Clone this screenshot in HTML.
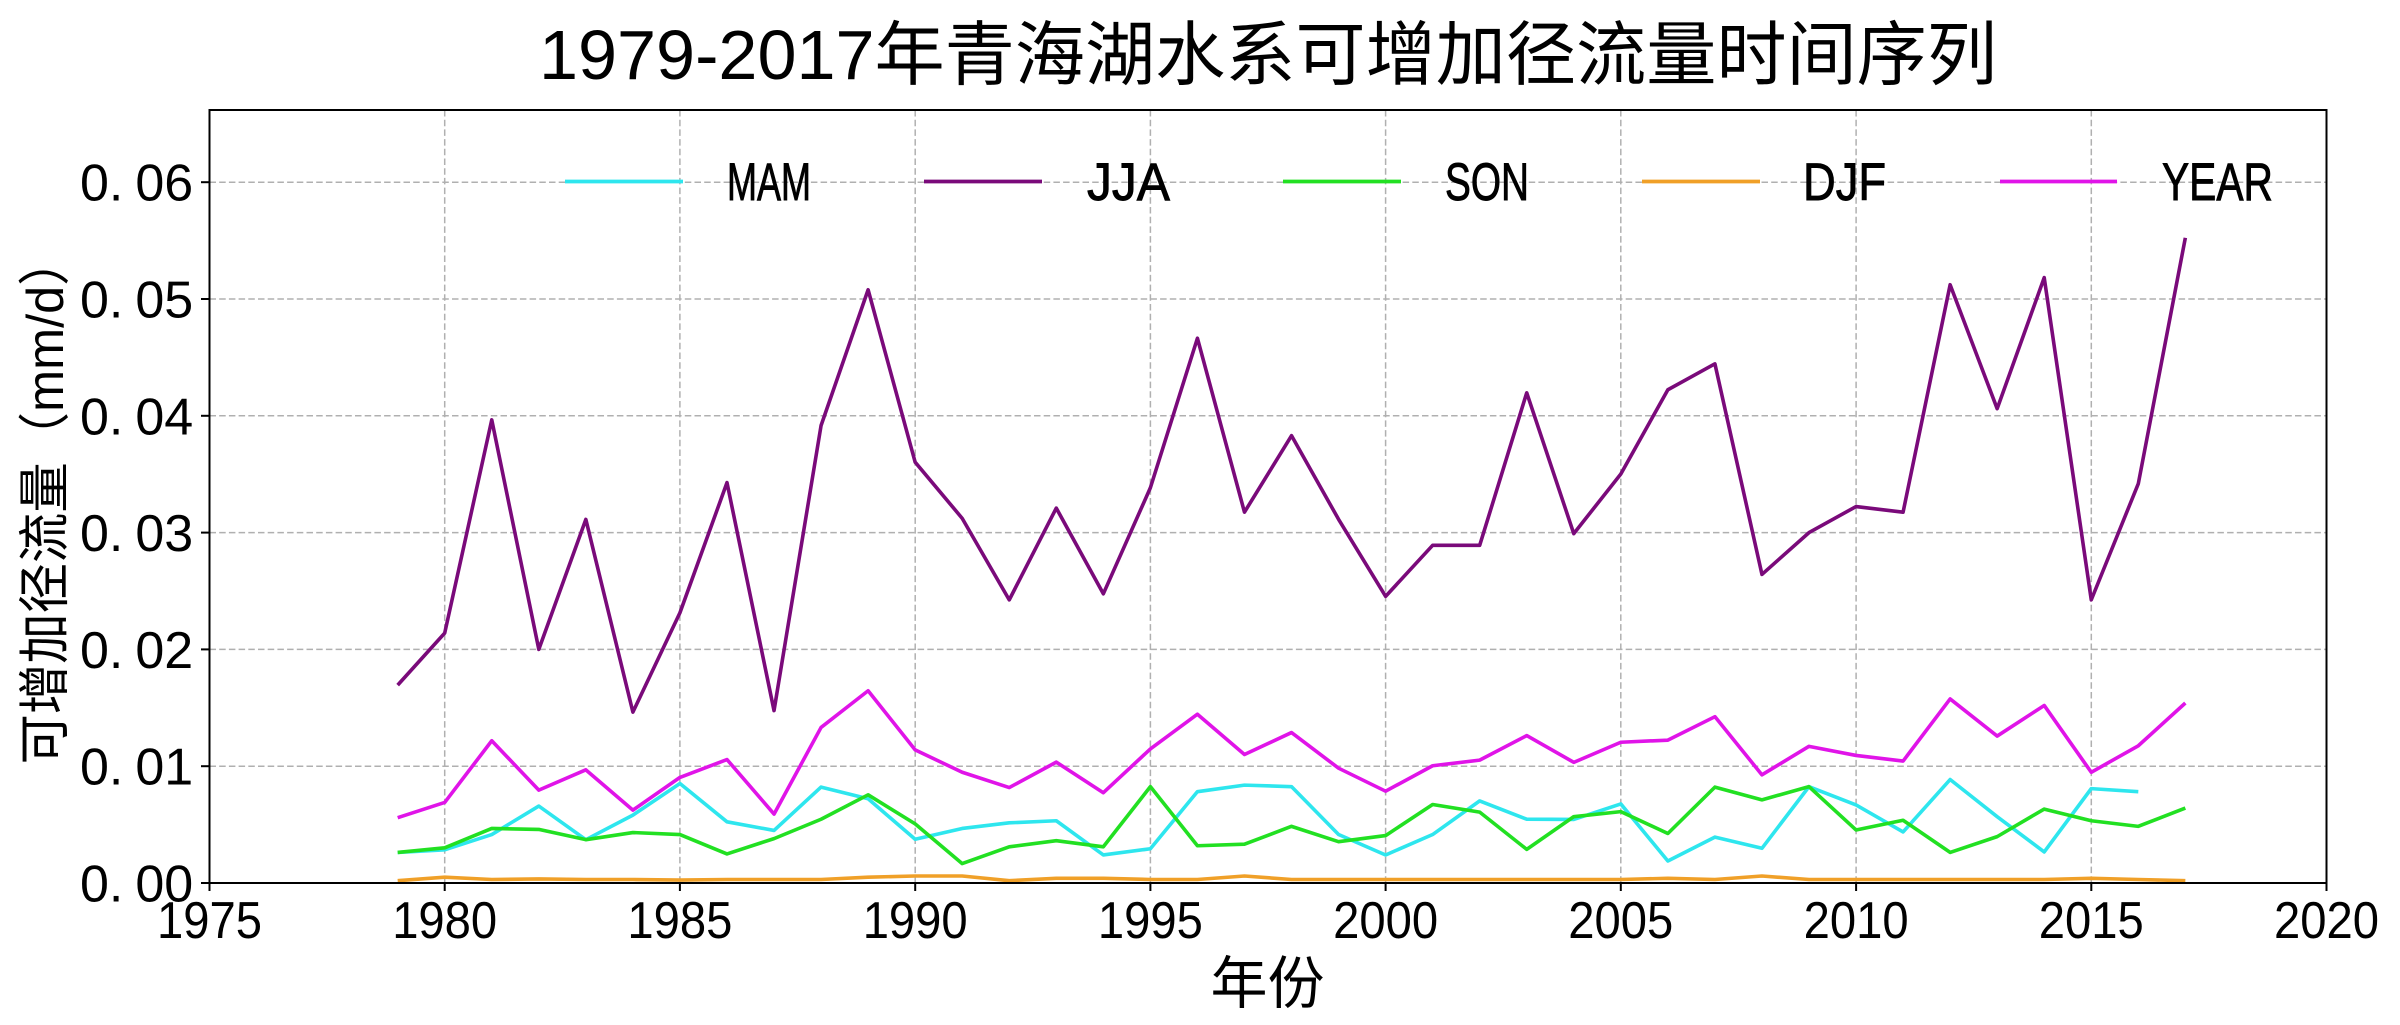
<!DOCTYPE html>
<html>
<head>
<meta charset="utf-8">
<style>
  html, body { margin: 0; padding: 0; background: #ffffff; }
  svg { display: block; }
  text { font-family: "Liberation Sans", "Noto Sans CJK SC", sans-serif; fill: #000; }
</style>
</head>
<body>
<svg width="2400" height="1025" viewBox="0 0 2400 1025" xmlns="http://www.w3.org/2000/svg">
  <rect x="0" y="0" width="2400" height="1025" fill="#ffffff"/>

  <!-- Title -->
  <text x="1268" y="79" font-size="70" text-anchor="middle" textLength="1458" lengthAdjust="spacingAndGlyphs">1979-2017年青海湖水系可增加径流量时间序列</text>

  <!-- Grid lines -->
  <g stroke="#b0b0b0" stroke-width="1.5" stroke-dasharray="6.5 3.2" fill="none">
    <line x1="209.5" y1="766.2" x2="2326.5" y2="766.2"/>
    <line x1="209.5" y1="649.4" x2="2326.5" y2="649.4"/>
    <line x1="209.5" y1="532.6" x2="2326.5" y2="532.6"/>
    <line x1="209.5" y1="415.8" x2="2326.5" y2="415.8"/>
    <line x1="209.5" y1="299.0" x2="2326.5" y2="299.0"/>
    <line x1="209.5" y1="182.2" x2="2326.5" y2="182.2"/>
    <line x1="444.7" y1="110" x2="444.7" y2="883"/>
    <line x1="679.9" y1="110" x2="679.9" y2="883"/>
    <line x1="915.2" y1="110" x2="915.2" y2="883"/>
    <line x1="1150.4" y1="110" x2="1150.4" y2="883"/>
    <line x1="1385.6" y1="110" x2="1385.6" y2="883"/>
    <line x1="1620.8" y1="110" x2="1620.8" y2="883"/>
    <line x1="1856.1" y1="110" x2="1856.1" y2="883"/>
    <line x1="2091.3" y1="110" x2="2091.3" y2="883"/>
  </g>

  <!-- Data series -->
  <g transform="translate(209.5,883) scale(47.044,-11680)" fill="none" stroke-linejoin="round" stroke-linecap="butt">
    <polyline vector-effect="non-scaling-stroke" stroke="#2ee6ee" stroke-width="3.6"
      points="4,0.00262 5,0.00284 6,0.00415 7,0.00659 8,0.00371 9,0.00581 10,0.00852 11,0.00524 12,0.00450 13,0.00821 14,0.00721 15,0.00375 16,0.00467 17,0.00515 18,0.00533 19,0.00240 20,0.00293 21,0.00782 22,0.00838 23,0.00825 24,0.00415 25,0.00240 26,0.00415 27,0.00703 28,0.00546 29,0.00544 30,0.00677 31,0.00188 32,0.00393 33,0.00297 34,0.00825 35,0.00668 36,0.00437 37,0.00886 38,0.00568 39,0.00266 40,0.00808 41,0.00782"/>
    <polyline vector-effect="non-scaling-stroke" stroke="#7a0a7a" stroke-width="3.6"
      points="4,0.01694 5,0.02140 6,0.03965 7,0.02000 8,0.03113 9,0.01463 10,0.02314 11,0.03428 12,0.01476 13,0.03917 14,0.05079 15,0.03603 16,0.03122 17,0.02424 18,0.03210 19,0.02476 20,0.03384 21,0.04664 22,0.03175 23,0.03830 24,0.03114 25,0.02454 26,0.02891 27,0.02891 28,0.04197 29,0.02991 30,0.03502 31,0.04223 32,0.04445 33,0.02642 34,0.03000 35,0.03223 36,0.03175 37,0.05122 38,0.04061 39,0.05183 40,0.02424 41,0.03419 42,0.05524"/>
    <polyline vector-effect="non-scaling-stroke" stroke="#22e022" stroke-width="3.6"
      points="4,0.00262 5,0.00301 6,0.00467 7,0.00459 8,0.00371 9,0.00432 10,0.00415 11,0.00249 12,0.00380 13,0.00546 14,0.00755 15,0.00506 16,0.00166 17,0.00310 18,0.00362 19,0.00310 20,0.00825 21,0.00319 22,0.00332 23,0.00485 24,0.00354 25,0.00406 26,0.00672 27,0.00607 28,0.00288 29,0.00568 30,0.00611 31,0.00424 32,0.00821 33,0.00712 34,0.00825 35,0.00454 36,0.00537 37,0.00262 38,0.00397 39,0.00633 40,0.00533 41,0.00485 42,0.00642"/>
    <polyline vector-effect="non-scaling-stroke" stroke="#f0a028" stroke-width="3.6"
      points="4,0.0002 5,0.0005 6,0.0003 7,0.00035 8,0.0003 9,0.0003 10,0.00025 11,0.0003 12,0.0003 13,0.0003 14,0.0005 15,0.0006 16,0.0006 17,0.0002 18,0.0004 19,0.0004 20,0.0003 21,0.0003 22,0.0006 23,0.0003 24,0.0003 25,0.0003 26,0.0003 27,0.0003 28,0.0003 29,0.0003 30,0.0003 31,0.0004 32,0.0003 33,0.0006 34,0.0003 35,0.0003 36,0.0003 37,0.0003 38,0.0003 39,0.0003 40,0.0004 41,0.0003 42,0.0002"/>
    <polyline vector-effect="non-scaling-stroke" stroke="#e014e8" stroke-width="3.6"
      points="4,0.00559 5,0.00690 6,0.01218 7,0.00795 8,0.00969 9,0.00624 10,0.00904 11,0.01057 12,0.00590 13,0.01332 14,0.01646 15,0.01140 16,0.00948 17,0.00817 18,0.01035 19,0.00773 20,0.01148 21,0.01445 22,0.01100 23,0.01288 24,0.00983 25,0.00786 26,0.01004 27,0.01052 28,0.01262 29,0.01033 30,0.01205 31,0.01223 32,0.01424 33,0.00926 34,0.01170 35,0.01092 36,0.01044 37,0.01576 38,0.01258 39,0.01520 40,0.00948 41,0.01175 42,0.01541"/>
  </g>

  <!-- Legend (no frame) -->
  <g stroke-width="3.8" fill="none">
    <line x1="565" y1="181.5" x2="683" y2="181.5" stroke="#2ee6ee"/>
    <line x1="924" y1="181.5" x2="1042" y2="181.5" stroke="#7a0a7a"/>
    <line x1="1283" y1="181.5" x2="1401" y2="181.5" stroke="#22e022"/>
    <line x1="1642" y1="181.5" x2="1760" y2="181.5" stroke="#f0a028"/>
    <line x1="2000" y1="181.5" x2="2117" y2="181.5" stroke="#e014e8"/>
  </g>
  <g font-size="53" stroke="#000" stroke-width="0.9">
    <text x="727" y="200" textLength="84" lengthAdjust="spacingAndGlyphs">MAM</text>
    <text x="1087" y="200" textLength="83" lengthAdjust="spacingAndGlyphs">JJA</text>
    <text x="1445" y="200" textLength="84" lengthAdjust="spacingAndGlyphs">SON</text>
    <text x="1803" y="200" textLength="83" lengthAdjust="spacingAndGlyphs">DJF</text>
    <text x="2162" y="200" textLength="111" lengthAdjust="spacingAndGlyphs">YEAR</text>
  </g>

  <!-- Axes spines -->
  <rect x="209.5" y="110" width="2117" height="773" fill="none" stroke="#000" stroke-width="2"/>

  <!-- Y ticks -->
  <g stroke="#000" stroke-width="2">
    <line x1="201" y1="883" x2="209.5" y2="883"/>
    <line x1="201" y1="766.2" x2="209.5" y2="766.2"/>
    <line x1="201" y1="649.4" x2="209.5" y2="649.4"/>
    <line x1="201" y1="532.6" x2="209.5" y2="532.6"/>
    <line x1="201" y1="415.8" x2="209.5" y2="415.8"/>
    <line x1="201" y1="299.0" x2="209.5" y2="299.0"/>
    <line x1="201" y1="182.2" x2="209.5" y2="182.2"/>
  </g>
  <!-- X ticks -->
  <g stroke="#000" stroke-width="2">
    <line x1="209.5" y1="883" x2="209.5" y2="891"/>
    <line x1="444.7" y1="883" x2="444.7" y2="891"/>
    <line x1="679.9" y1="883" x2="679.9" y2="891"/>
    <line x1="915.2" y1="883" x2="915.2" y2="891"/>
    <line x1="1150.4" y1="883" x2="1150.4" y2="891"/>
    <line x1="1385.6" y1="883" x2="1385.6" y2="891"/>
    <line x1="1620.8" y1="883" x2="1620.8" y2="891"/>
    <line x1="1856.1" y1="883" x2="1856.1" y2="891"/>
    <line x1="2091.3" y1="883" x2="2091.3" y2="891"/>
    <line x1="2326.5" y1="883" x2="2326.5" y2="891"/>
  </g>

  <!-- Y tick labels -->
  <g font-size="52">
    <text x="80" y="901.5">0.<tspan dx="12">00</tspan></text>
    <text x="80" y="784.7">0.<tspan dx="12">01</tspan></text>
    <text x="80" y="667.9">0.<tspan dx="12">02</tspan></text>
    <text x="80" y="551.1">0.<tspan dx="12">03</tspan></text>
    <text x="80" y="434.3">0.<tspan dx="12">04</tspan></text>
    <text x="80" y="317.5">0.<tspan dx="12">05</tspan></text>
    <text x="80" y="200.7">0.<tspan dx="12">06</tspan></text>
  </g>

  <!-- X tick labels -->
  <g font-size="52" text-anchor="middle">
    <text x="209.5" y="938" textLength="105" lengthAdjust="spacingAndGlyphs">1975</text>
    <text x="444.7" y="938" textLength="105" lengthAdjust="spacingAndGlyphs">1980</text>
    <text x="679.9" y="938" textLength="105" lengthAdjust="spacingAndGlyphs">1985</text>
    <text x="915.2" y="938" textLength="105" lengthAdjust="spacingAndGlyphs">1990</text>
    <text x="1150.4" y="938" textLength="105" lengthAdjust="spacingAndGlyphs">1995</text>
    <text x="1385.6" y="938" textLength="105" lengthAdjust="spacingAndGlyphs">2000</text>
    <text x="1620.8" y="938" textLength="105" lengthAdjust="spacingAndGlyphs">2005</text>
    <text x="1856.1" y="938" textLength="105" lengthAdjust="spacingAndGlyphs">2010</text>
    <text x="2091.3" y="938" textLength="105" lengthAdjust="spacingAndGlyphs">2015</text>
    <text x="2326.5" y="938" textLength="105" lengthAdjust="spacingAndGlyphs">2020</text>
  </g>

  <!-- Axis labels -->
  <text x="1267.5" y="1003" font-size="57" text-anchor="middle">年份</text>
  <text transform="translate(63,500) rotate(-90)" x="0" y="0" font-size="52" text-anchor="middle" textLength="529" lengthAdjust="spacingAndGlyphs">可增加径流量（mm/d）</text>
</svg>
</body>
</html>
